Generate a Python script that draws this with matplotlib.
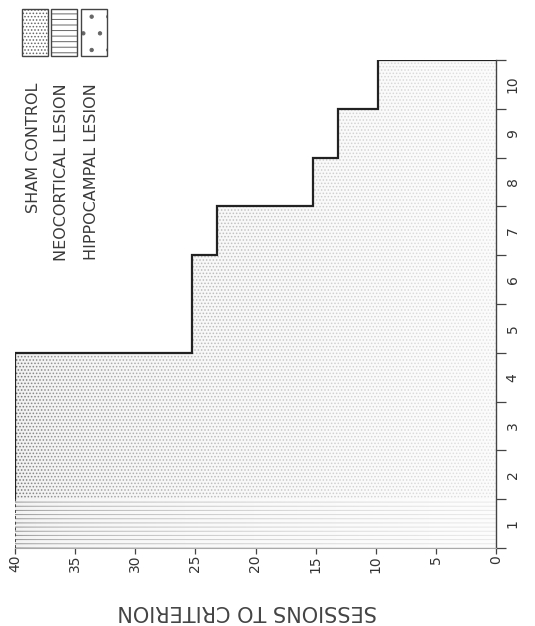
import matplotlib
matplotlib.use('Agg')
import matplotlib.pyplot as plt
import numpy as np
from matplotlib.patches import Rectangle, Polygon

# data (chart is printed turned on its side)
subjects = [1, 2, 3, 4, 5, 6, 7, 8, 9, 10]
sham_sessions = [40, 40, 40, 40, 25.3, 25.3, 23.2, 15.2, 13.1, 9.8]
neocortical_subjects = [1]
neocortical_sessions = [40]
session_ticks = [0, 5, 10, 15, 20, 25, 30, 35, 40]
legend_labels = ['SHAM CONTROL', 'NEOCORTICAL LESION', 'HIPPOCAMPAL LESION']

plt.rcParams['hatch.linewidth'] = 0.7
W, H = 535, 626
fig = plt.figure(figsize=(W / 100, H / 100), dpi=100)
ax = fig.add_axes([15 / W, (H - 548) / H, (496 - 15) / W, (548 - 60) / H])
ax.set_xlim(40, 0)
ax.set_ylim(0.5, 10.5)

ax.barh(subjects, sham_sessions, height=1.0, color='#efefef', edgecolor='#666666',
        hatch='.....', linewidth=0, zorder=1)
ax.barh(neocortical_subjects, neocortical_sessions, height=1.0, color='#f2f2f2',
        edgecolor='#888888', hatch='----', linewidth=0, zorder=1.5)

# outline of the stepped area
ys = np.array(subjects, dtype=float)
vals = np.array(sham_sessions)
verts = [(0, ys[0] - 0.5)]
for y, v in zip(ys, vals):
    verts += [(v, y - 0.5), (v, y + 0.5)]
verts.append((0, ys[-1] + 0.5))
poly = Polygon(verts, closed=True, facecolor='none', edgecolor='none')
ax.add_patch(poly)

# scan fading: darker near 40, washed out toward 0
xg = np.linspace(40, 0, 300)
alpha = 0.82 * (1 - xg / 40) ** 0.4
img = np.ones((1, 300, 4))
img[0, :, 3] = alpha
im = ax.imshow(img, extent=(40, 0, 0.5, 10.5), aspect='auto', zorder=2,
               interpolation='bilinear')
im.set_clip_path(poly)

ox = [p[0] for p in verts[3:]]
oy = [p[1] for p in verts[3:]]
ax.plot([vals[0]] + ox, [1.5] + oy, color='#222222', lw=1.6, zorder=3,
        solid_joinstyle='miter')
ax.plot([vals[0], vals[0]], [0.5, 1.5], color='#444444', lw=1.4,
        ls=(0, (1.5, 1.5)), zorder=3)

# axes
for s in ['left', 'top']:
    ax.spines[s].set_visible(False)
ax.spines['right'].set_color('#444444')
ax.spines['right'].set_linewidth(1.0)
ax.spines['bottom'].set_color('#aaaaaa')
ax.spines['bottom'].set_linewidth(0.8)

ax.set_xticks(session_ticks)
ax.set_xticklabels([str(t) for t in session_ticks], rotation=90, fontsize=10,
                   color='#333333')
ax.tick_params(axis='x', direction='out', length=4, width=0.9, pad=1,
               color='#444444')

ax.yaxis.tick_right()
ax.set_yticks([s + 0.5 for s in [0] + subjects])
ax.set_yticklabels([])
ax.set_yticks(subjects, minor=True)
ax.set_yticklabels([str(s) for s in subjects], minor=True, rotation=90,
                   fontsize=10, color='#333333', va='center')
ax.tick_params(axis='y', which='major', direction='out', length=7, width=0.9,
               color='#444444')
ax.tick_params(axis='y', which='minor', length=0, pad=7)

fig.text(247 / W, 1 - 611 / H, 'SESSIONS TO CRITERION', rotation=180,
         ha='center', va='center', fontsize=15, color='#444444')

# legend
box_x = [22, 51, 81]
box_hatch = ['.....', '---', '.']
text_x = [33, 62, 92]
for bx, hat, tx, lab in zip(box_x, box_hatch, text_x, legend_labels):
    r = Rectangle((bx / W, 1 - 56 / H), 26 / W, 47 / H, transform=fig.transFigure,
                  facecolor='white', edgecolor='#666666', hatch=hat, linewidth=0)
    fig.add_artist(r)
    fig.add_artist(Rectangle((bx / W, 1 - 56 / H), 26 / W, 47 / H,
                             transform=fig.transFigure, fill=False,
                             edgecolor='#444444', linewidth=1.0))
    fig.text(tx / W, 1 - 83 / H, lab, rotation=90, ha='center', va='top',
             fontsize=11.5, color='#3a3a3a')

fig.savefig('out.png', dpi=100)
